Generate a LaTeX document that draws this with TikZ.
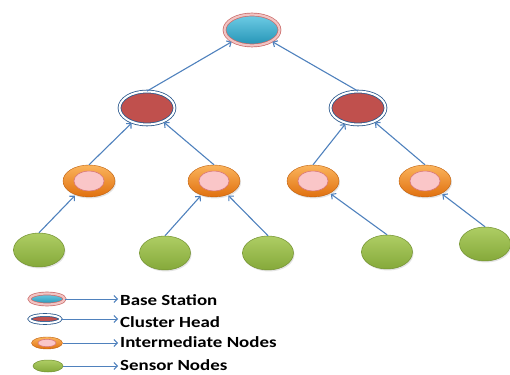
\documentclass[tikz,border=0pt]{standalone}
\usepackage{fontspec}
\newfontfamily\legfont[FakeStretch=1.22]{Carlito}
\usetikzlibrary{shapes.geometric,arrows.meta,shadows,calc}
\definecolor{linkblue}{HTML}{4F81BD}
\definecolor{bstop}{HTML}{6FCDE6}
\definecolor{bsbot}{HTML}{2393B5}
\definecolor{bsring}{HTML}{C0504D}
\definecolor{bsband}{HTML}{F2C4C3}
\definecolor{chred}{HTML}{C0504D}
\definecolor{chring}{HTML}{2C5A8E}
\definecolor{intop}{HTML}{FBB45C}
\definecolor{inbot}{HTML}{E0700F}
\definecolor{inpink}{HTML}{FAC6C8}
\definecolor{inedge}{HTML}{D9777A}
\definecolor{sntop}{HTML}{AECD64}
\definecolor{snbot}{HTML}{85A93A}
\definecolor{snedge}{HTML}{71902F}
\tikzset{
  bsnode/.style={ellipse,inner sep=0,
    top color=bstop,bottom color=bsbot,draw=bsring!85,line width=0.7pt,
    double=bsband,double distance=2.2pt},
  chnode/.style={ellipse,inner sep=0,
    fill=chred,draw=chring,line width=0.8pt,double=white,double distance=2pt},
  innode/.style={ellipse,inner sep=0,
    top color=intop,bottom color=inbot,draw=inbot!85!black,line width=0.4pt,
    path picture={\fill[inpink,draw=inedge,line width=0.6pt]
      let \p1=(path picture bounding box.north east),
          \p2=(path picture bounding box.center) in
      (\p2) ellipse ({0.58*(\x1-\x2)} and {0.62*(\y1-\y2)});}},
  snnode/.style={ellipse,inner sep=0,
    top color=sntop,bottom color=snbot,draw=snedge,line width=0.5pt},
  softshadow/.style={drop shadow={opacity=0.22,shadow xshift=1pt,shadow yshift=-1.5pt}},
  link/.style={draw=linkblue,line width=1.1pt,shorten >=1pt,
    -{Straight Barb[length=3.5pt,width=7pt]}},
  legtext/.style={anchor=base west,inner sep=0,
    font=\legfont\bfseries\fontsize{15.5}{18}\selectfont}
}

\begin{document}
\begin{tikzpicture}[x=1pt,y=1pt]
\useasboundingbox (0,0) rectangle (510,374);

% --- tree -------------------------------------------------------------
\node[bsnode,minimum width=55pt,minimum height=31pt,softshadow] (bs) at (252,344) {};

\node[chnode,minimum width=55pt,minimum height=33pt,softshadow] (ch1) at (147,266) {};
\node[chnode,minimum width=55pt,minimum height=33pt,softshadow] (ch2) at (358,266) {};

\foreach \n/\x in {i1/89,i2/214,i3/313,i4/425}{
  \node[innode,minimum width=52pt,minimum height=32pt,softshadow] (\n) at (\x,193) {};
}

\foreach \n/\x/\y in {s1/39/124,s2/165/121,s3/268/121,s4/387/122,s5/485/130}{
  \node[snnode,minimum width=51pt,minimum height=34pt,softshadow] (\n) at (\x,\y) {};
}

\foreach \c/\p in {s1/i1,s2/i2,s3/i2,s4/i3,s5/i4,i1/ch1,i2/ch1,i3/ch2,i4/ch2,ch1/bs,ch2/bs}{
  \draw[link] (\c.north) -- (\p);
}

% --- legend -----------------------------------------------------------
\node[bsnode,minimum width=35pt,minimum height=11pt] (lbs) at (47,75) {};
\node[chnode,minimum width=31pt,minimum height=8pt] (lch) at (45,55) {};
\node[innode,minimum width=31pt,minimum height=12pt] (lin) at (47,31) {};
\node[snnode,minimum width=30pt,minimum height=12pt] (lsn) at (48,8) {};

\node[legtext] (tbs) at (120,68) {Base Station};
\node[legtext] (tch) at (120,46) {Cluster Head};
\node[legtext] (tin) at (120,27) {Intermediate Nodes};
\node[legtext] (tsn) at (120,4) {Sensor Nodes};

\foreach \n in {bs,ch,in,sn}{
  \draw[link,shorten >=2pt,line width=0.9pt] (l\n.east) -- (l\n.east -| t\n.west);
}

\end{tikzpicture}
\end{document}
